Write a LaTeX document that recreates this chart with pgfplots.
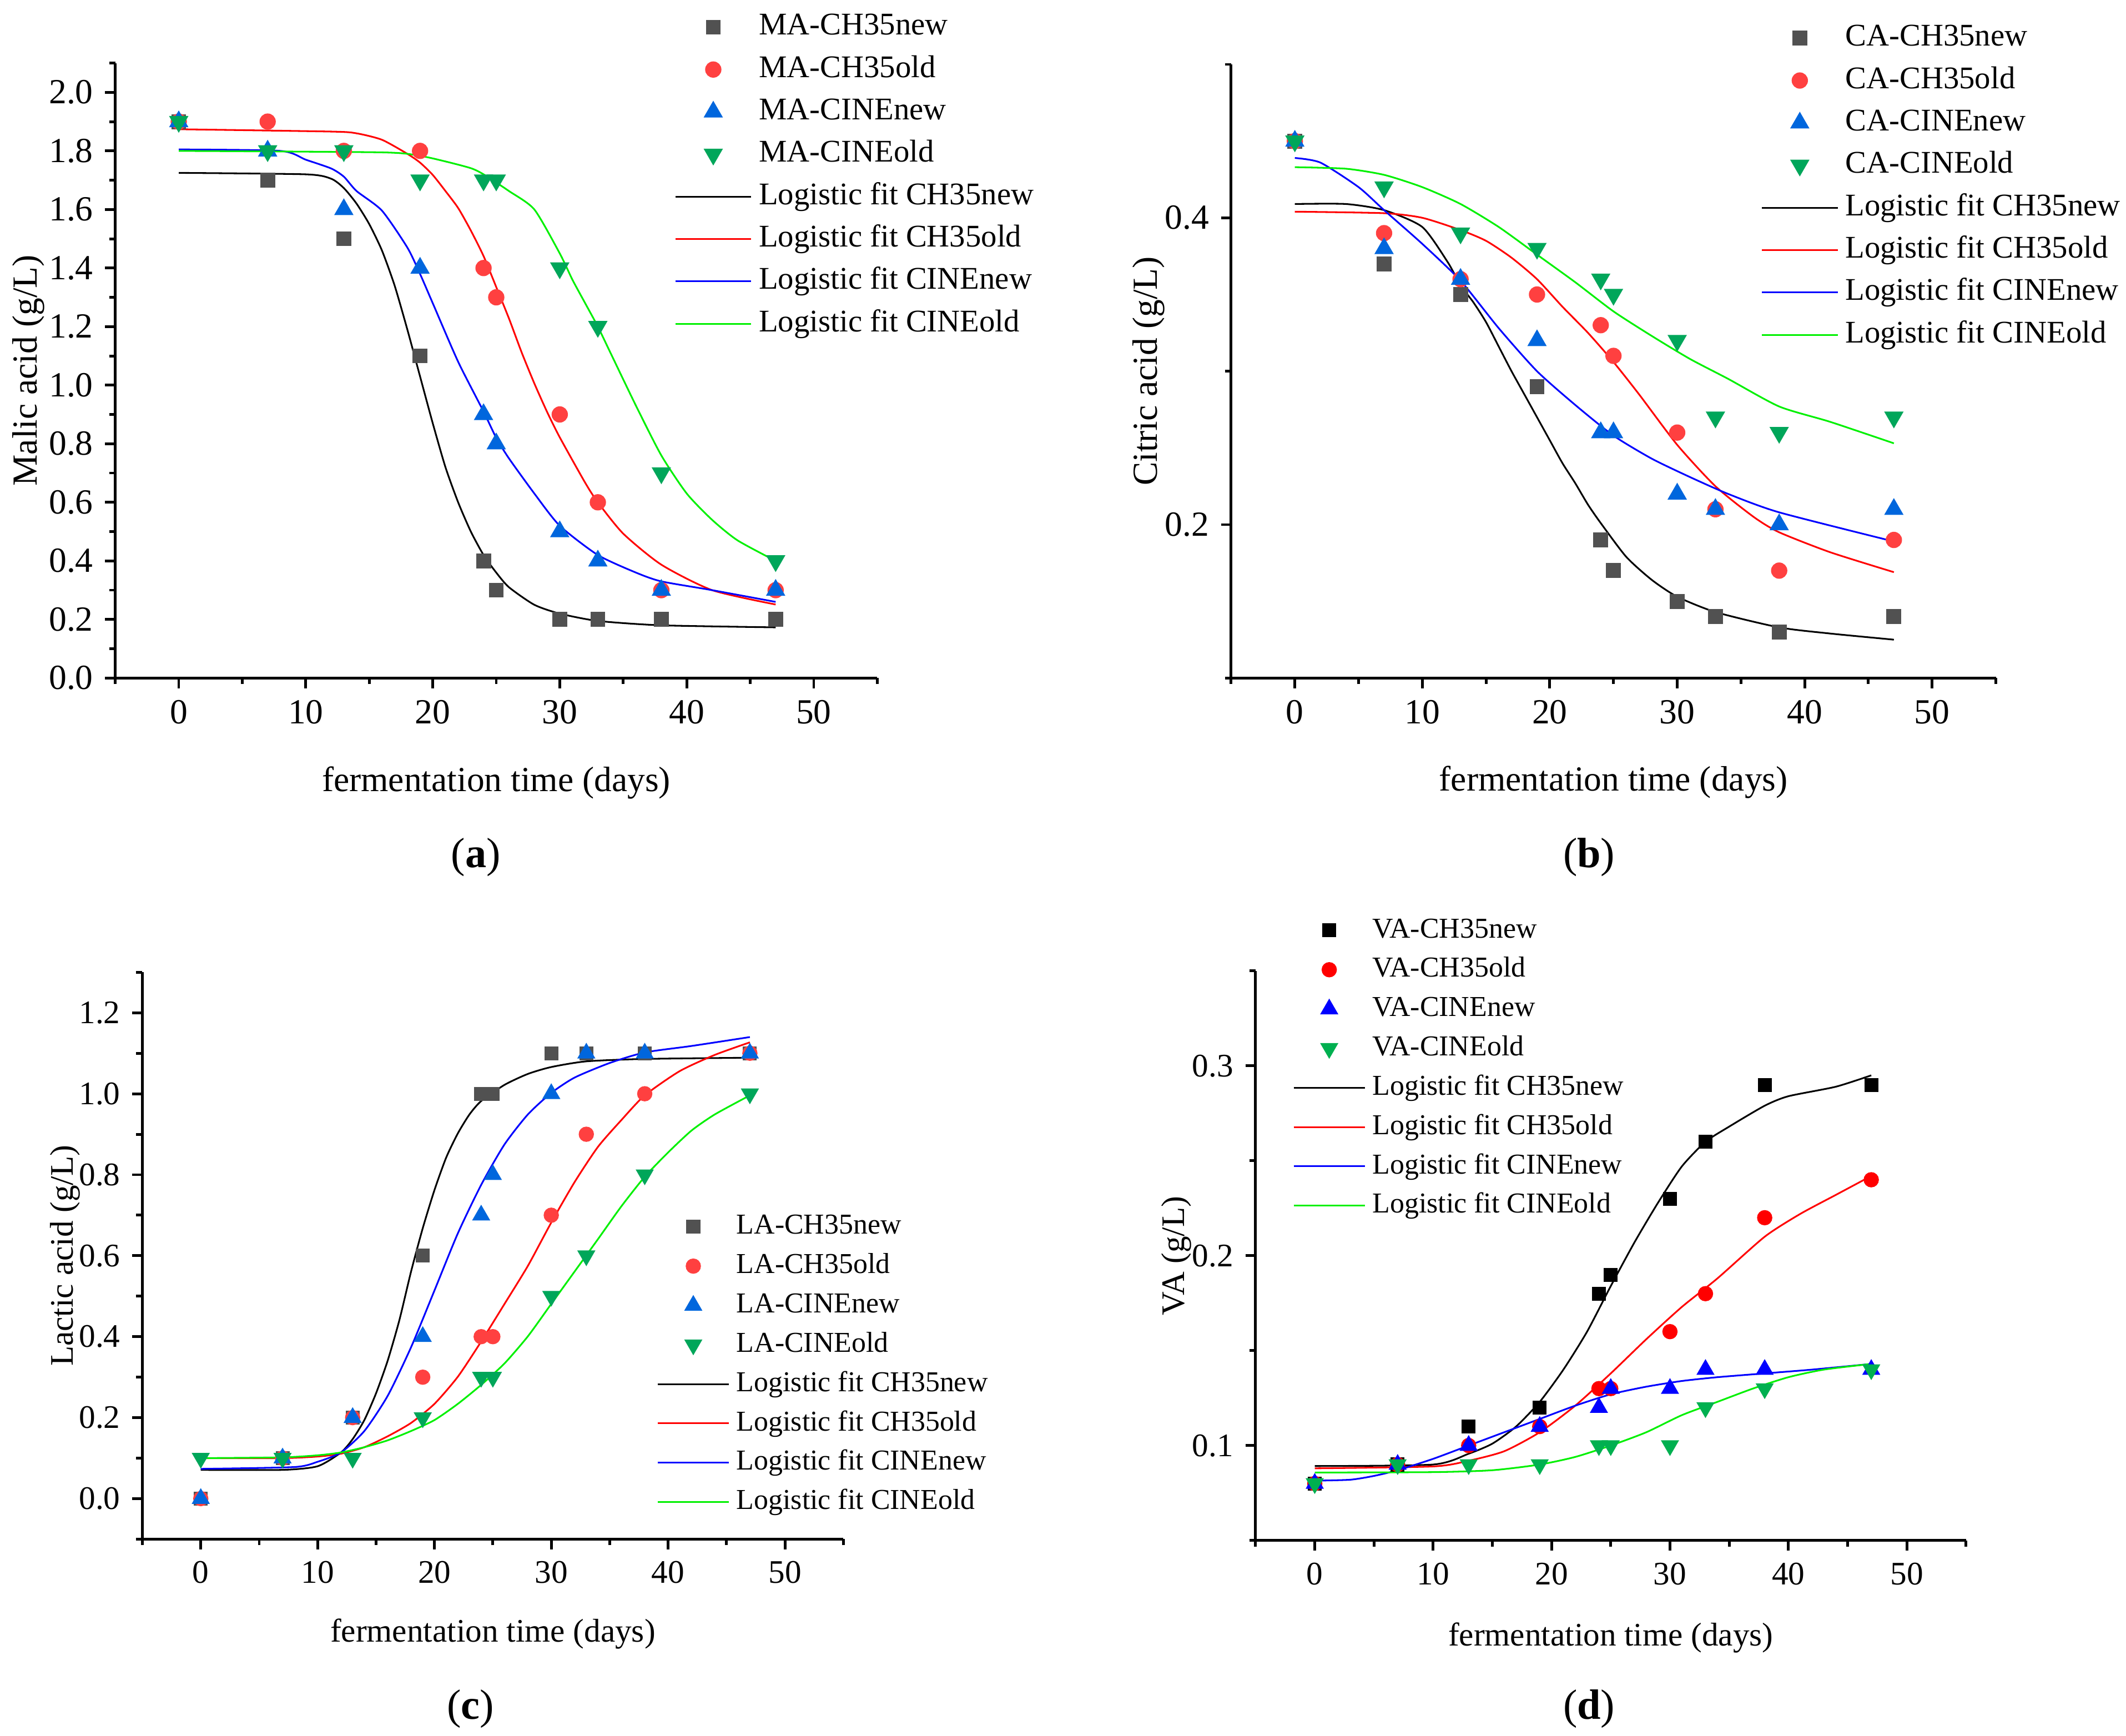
\documentclass[border=0pt]{standalone}
\usepackage{fontspec}
\setmainfont{Liberation Serif}
\usepackage{pgfplots}
\pgfplotsset{compat=1.18}
\definecolor{sqc}{HTML}{515151}
\definecolor{cic}{HTML}{FF4040}
\definecolor{tuc}{HTML}{0066DD}
\definecolor{tdc}{HTML}{00A65A}
\definecolor{fitr}{HTML}{FF0000}
\definecolor{fitb}{HTML}{0000FF}
\definecolor{fitg}{HTML}{00F000}
\definecolor{dgr}{HTML}{00B050}
\newcommand\fsA{\fontsize{10.4}{12}\selectfont}
\newcommand\fsAL{\fontsize{9.3}{11}\selectfont}
\newcommand\fsC{\fontsize{9.7}{11}\selectfont}
\newcommand\fsCL{\fontsize{8.5}{10}\selectfont}
\pgfplotsset{
 base/.style={
  scale only axis,
  axis x line*=bottom, axis y line*=left,
  xmin=-5, xmax=55,
  xtick={0,10,20,30,40,50}, minor xtick={-5,5,15,25,35,45,55},
  tick align=outside,
  major tick length=3pt, minor tick length=1.8pt,
  axis line style={line width=0.8pt},
  every tick/.style={line width=0.8pt, black},
  /pgf/number format/assume math mode=true,
  yticklabel style={/pgf/number format/.cd, fixed, fixed zerofill, precision=1},
  clip=false,
  legend cell align=left,
  xlabel={fermentation time (days)},
 },
 legA/.style={
  tick label style={font=\fsA}, label style={font=\fsA},
  legend image code/.code={\draw[##1] (0pt,0pt) -- (22.4pt,0pt);},
  legend style={draw=none, fill=none, inner sep=0pt, font=\fsAL, row sep=2.5pt, column sep=1.5pt,
     nodes={inner sep=0.5pt, text height=6.8pt, text depth=2.2pt}},
 },
 legC/.style={
  tick label style={font=\fsC}, label style={font=\fsC},
  legend image code/.code={\draw[##1] (0pt,0pt) -- (21pt,0pt);},
  legend style={draw=none, fill=none, inner sep=0pt, font=\fsCL, row sep=2.3pt, column sep=1.5pt,
     nodes={inner sep=0.5pt, text height=6.3pt, text depth=2pt}},
 },
 mA/.style={only marks, color=#1, legend image code/.code={\draw[##1] plot coordinates {(11.2pt,0pt)};}},
 mC/.style={only marks, color=#1, legend image code/.code={\draw[##1] plot coordinates {(10.5pt,0pt)};}},
 fit/.style={no markers, line width=0.5pt, color=#1, smooth, tension=0.4},
}
\begin{document}
\begin{tikzpicture}
\path[use as bounding box] (0pt,0pt) rectangle (627.2pt,512pt);
\fill[white] (0pt,0pt) rectangle (627.2pt,512pt);
% ---------------- (a)
\begin{axis}[base, legA, at={(34pt,312pt)}, anchor=south west, width=224.8pt, height=181.4pt,
  ymin=0, ymax=2.1,
  ytick={0,0.2,0.4,0.6,0.8,1.0,1.2,1.4,1.6,1.8,2.0},
  minor ytick={0.1,0.3,0.5,0.7,0.9,1.1,1.3,1.5,1.7,1.9,2.1},
  ylabel={Malic acid (g/L)},
  xlabel style={at={(axis description cs:0.5,-0.170)}, anchor=center},
  ylabel style={at={(axis description cs:-0.114,0.5)}, anchor=center},
  legend style={at={(0.733,1.087)}, anchor=north west}]
\addplot[mA=sqc, mark=square*, mark size=2pt] coordinates {(0,1.9)(7,1.7)(13,1.5)(19,1.1)(24,0.4)(25,0.3)(30,0.2)(33,0.2)(38,0.2)(47,0.2)};
\addplot[mA=cic, mark=*, mark size=2.2pt] coordinates {(0,1.9)(7,1.9)(13,1.8)(19,1.8)(24,1.4)(25,1.3)(30,0.9)(33,0.6)(38,0.3)(47,0.3)};
\addplot[mA=tuc, mark=triangle*, mark size=2.9pt] coordinates {(0,1.9)(7,1.8)(13,1.6)(19,1.4)(24,0.9)(25,0.8)(30,0.5)(33,0.4)(38,0.3)(47,0.3)};
\addplot[mA=tdc, mark=triangle*, mark size=2.9pt, mark options={rotate=180}] coordinates {(0,1.9)(7,1.8)(13,1.8)(19,1.7)(24,1.7)(25,1.7)(30,1.4)(33,1.2)(38,0.7)(47,0.4)};
\addplot[fit=black] coordinates {(0,1.725)(10,1.72)(12,1.705)(13,1.673)(14,1.62)(15,1.55)(16,1.46)(17,1.34)(18,1.19)(19,1.03)(20,0.87)(21,0.72)(22,0.60)(23,0.50)(24,0.42)(25,0.36)(26,0.31)(28,0.25)(30,0.22)(33,0.195)(38,0.18)(47,0.173)};
\addplot[fit=fitr] coordinates {(0,1.874)(12,1.866)(14,1.86)(16,1.838)(18,1.79)(19,1.76)(20,1.718)(21,1.663)(22,1.605)(23,1.528)(24,1.441)(25,1.335)(26,1.228)(27,1.112)(28,1.006)(29,0.909)(30,0.822)(32,0.667)(33,0.6)(35,0.493)(38,0.387)(42,0.3)(47,0.251)};
\addplot[fit=fitb] coordinates {(0,1.805)(8,1.8)(10,1.77)(12,1.74)(13,1.712)(14,1.663)(16,1.596)(18,1.47)(19,1.38)(20,1.28)(22,1.08)(24,0.91)(25,0.82)(26,0.75)(28,0.63)(30,0.52)(33,0.42)(36,0.36)(38,0.33)(42,0.30)(47,0.26)};
\addplot[fit=fitg] coordinates {(0,1.80)(16,1.795)(19,1.783)(21,1.764)(23,1.741)(24,1.72)(26,1.663)(28,1.60)(30,1.45)(31,1.36)(32,1.28)(33,1.2)(34,1.11)(36,0.93)(38,0.76)(40,0.63)(42,0.54)(44,0.47)(47,0.40)};
\legend{MA-CH35new,MA-CH35old,MA-CINEnew,MA-CINEold,Logistic fit CH35new,Logistic fit CH35old,Logistic fit CINEnew,Logistic fit CINEold}
\end{axis}
% ---------------- (b)
\begin{axis}[base, legA, at={(363.2pt,312pt)}, anchor=south west, width=225.6pt, height=181pt,
  ymin=0.1, ymax=0.5,
  ytick={0.2,0.4}, minor ytick={0.1,0.3,0.5},
  ylabel={Citric acid (g/L)},
  xlabel style={at={(axis description cs:0.5,-0.170)}, anchor=center},
  ylabel style={at={(axis description cs:-0.108,0.5)}, anchor=center},
  legend style={at={(0.692,1.0715)}, anchor=north west}]
\addplot[mA=sqc, mark=square*, mark size=2pt] coordinates {(0,0.45)(7,0.37)(13,0.35)(19,0.29)(24,0.19)(25,0.17)(30,0.15)(33,0.14)(38,0.13)(47,0.14)};
\addplot[mA=cic, mark=*, mark size=2.2pt] coordinates {(0,0.45)(7,0.39)(13,0.36)(19,0.35)(24,0.33)(25,0.31)(30,0.26)(33,0.21)(38,0.17)(47,0.19)};
\addplot[mA=tuc, mark=triangle*, mark size=2.9pt] coordinates {(0,0.45)(7,0.38)(13,0.36)(19,0.32)(24,0.26)(25,0.26)(30,0.22)(33,0.21)(38,0.20)(47,0.21)};
\addplot[mA=tdc, mark=triangle*, mark size=2.9pt, mark options={rotate=180}] coordinates {(0,0.45)(7,0.42)(13,0.39)(19,0.38)(24,0.36)(25,0.35)(30,0.32)(33,0.27)(38,0.26)(47,0.27)};
\addplot[fit=black] coordinates {(0,0.409)(4,0.409)(7,0.405)(10,0.394)(12,0.371)(13,0.356)(14,0.345)(15,0.332)(16,0.316)(17,0.30)(18,0.285)(19,0.27)(20,0.255)(21,0.24)(22,0.227)(23,0.213)(24,0.201)(26,0.179)(28,0.164)(30,0.153)(33,0.143)(38,0.133)(42,0.129)(47,0.125)};
\addplot[fit=fitr] coordinates {(0,0.404)(7,0.403)(10,0.40)(13,0.392)(15,0.385)(17,0.374)(19,0.36)(21,0.342)(23,0.325)(25,0.306)(27,0.285)(30,0.252)(33,0.225)(36,0.205)(38,0.195)(42,0.182)(47,0.169)};
\addplot[fit=fitb] coordinates {(0,0.439)(2,0.436)(5,0.42)(7,0.405)(10,0.383)(13,0.359)(16,0.328)(19,0.30)(22,0.278)(25,0.258)(28,0.243)(31,0.231)(34,0.22)(38,0.208)(47,0.189)};
\addplot[fit=fitg] coordinates {(0,0.433)(4,0.432)(7,0.428)(10,0.42)(13,0.409)(16,0.394)(19,0.376)(22,0.358)(25,0.339)(28,0.323)(31,0.308)(34,0.295)(38,0.277)(42,0.267)(47,0.253)};
\legend{CA-CH35new,CA-CH35old,CA-CINEnew,CA-CINEold,Logistic fit CH35new,Logistic fit CH35old,Logistic fit CINEnew,Logistic fit CINEold}
\end{axis}
% ---------------- (c)
\begin{axis}[base, legC, at={(42pt,58pt)}, anchor=south west, width=206.8pt, height=167.2pt,
  ymin=-0.1, ymax=1.3,
  ytick={0,0.2,0.4,0.6,0.8,1.0,1.2},
  minor ytick={-0.1,0.1,0.3,0.5,0.7,0.9,1.1,1.3},
  ylabel={Lactic acid (g/L)},
  xlabel style={at={(axis description cs:0.5,-0.167)}, anchor=center},
  ylabel style={at={(axis description cs:-0.110,0.5)}, anchor=center},
  legend style={at={(0.733,0.580)}, anchor=north west}]
\addplot[mC=sqc, mark=square*, mark size=1.85pt] coordinates {(0,0.0)(7,0.1)(13,0.2)(19,0.6)(24,1.0)(25,1.0)(30,1.1)(33,1.1)(38,1.1)(47,1.1)};
\addplot[mC=cic, mark=*, mark size=2.05pt] coordinates {(0,0.0)(7,0.1)(13,0.2)(19,0.3)(24,0.4)(25,0.4)(30,0.7)(33,0.9)(38,1.0)(47,1.1)};
\addplot[mC=tuc, mark=triangle*, mark size=2.7pt] coordinates {(0,0.0)(7,0.1)(13,0.2)(19,0.4)(24,0.7)(25,0.8)(30,1.0)(33,1.1)(38,1.1)(47,1.1)};
\addplot[mC=tdc, mark=triangle*, mark size=2.7pt, mark options={rotate=180}] coordinates {(0,0.1)(7,0.1)(13,0.1)(19,0.2)(24,0.3)(25,0.3)(30,0.5)(33,0.6)(38,0.8)(47,1.0)};
\addplot[fit=black] coordinates {(0,0.071)(7,0.071)(10,0.08)(12,0.114)(13,0.147)(14,0.194)(15,0.26)(16,0.341)(17,0.441)(18,0.561)(19,0.668)(20,0.762)(21,0.842)(22,0.902)(23,0.949)(24,0.982)(26,1.022)(28,1.049)(30,1.066)(33,1.08)(38,1.086)(47,1.089)};
\addplot[fit=fitr] coordinates {(0,0.1)(7,0.1)(10,0.104)(12,0.111)(14,0.127)(16,0.154)(18,0.187)(20,0.234)(22,0.301)(24,0.388)(26,0.481)(28,0.575)(30,0.682)(32,0.782)(34,0.869)(36,0.935)(38,0.996)(41,1.056)(44,1.096)(47,1.127)};
\addplot[fit=fitb] coordinates {(0,0.0735)(8,0.078)(10,0.091)(12,0.114)(14,0.167)(16,0.254)(18,0.374)(20,0.514)(22,0.655)(24,0.775)(26,0.875)(28,0.949)(30,1.002)(32,1.04)(35,1.076)(38,1.102)(42,1.118)(47,1.14)};
\addplot[fit=fitg] coordinates {(0,0.1)(7,0.102)(10,0.107)(12,0.114)(14,0.127)(16,0.144)(18,0.167)(20,0.194)(22,0.234)(24,0.281)(26,0.334)(28,0.401)(30,0.481)(32,0.561)(34,0.641)(36,0.722)(38,0.795)(40,0.855)(42,0.909)(44,0.949)(47,0.996)};
\legend{LA-CH35new,LA-CH35old,LA-CINEnew,LA-CINEold,Logistic fit CH35new,Logistic fit CH35old,Logistic fit CINEnew,Logistic fit CINEold}
\end{axis}
% ---------------- (d)
\begin{axis}[base, legC, at={(370.4pt,57.6pt)}, anchor=south west, width=209.6pt, height=168pt,
  ymin=0.05, ymax=0.35,
  ytick={0.1,0.2,0.3}, minor ytick={0.05,0.15,0.25,0.35},
  ylabel={VA (g/L)},
  xlabel style={at={(axis description cs:0.5,-0.171)}, anchor=center},
  ylabel style={at={(axis description cs:-0.111,0.5)}, anchor=center},
  legend style={at={(0.0515,1.100)}, anchor=north west}]
\addplot[mC=black, mark=square*, mark size=1.85pt] coordinates {(0,0.08)(7,0.09)(13,0.11)(19,0.12)(24,0.18)(25,0.19)(30,0.23)(33,0.26)(38,0.29)(47,0.29)};
\addplot[mC=fitr, mark=*, mark size=2.05pt] coordinates {(0,0.08)(7,0.09)(13,0.10)(19,0.11)(24,0.13)(25,0.13)(30,0.16)(33,0.18)(38,0.22)(47,0.24)};
\addplot[mC=fitb, mark=triangle*, mark size=2.7pt] coordinates {(0,0.08)(7,0.09)(13,0.10)(19,0.11)(24,0.12)(25,0.13)(30,0.13)(33,0.14)(38,0.14)(47,0.14)};
\addplot[mC=dgr, mark=triangle*, mark size=2.7pt, mark options={rotate=180}] coordinates {(0,0.08)(7,0.09)(13,0.09)(19,0.09)(24,0.10)(25,0.10)(30,0.10)(33,0.12)(38,0.13)(47,0.14)};
\addplot[fit=black] coordinates {(0,0.0892)(10,0.09)(13,0.0957)(15,0.101)(17,0.11)(19,0.123)(21,0.14)(23,0.16)(25,0.184)(27,0.207)(29,0.228)(31,0.247)(33,0.26)(35,0.268)(38,0.279)(40,0.284)(44,0.289)(47,0.295)};
\addplot[fit=fitr] coordinates {(0,0.088)(10,0.089)(13,0.092)(16,0.097)(19,0.107)(22,0.121)(25,0.138)(28,0.156)(31,0.173)(34,0.188)(38,0.21)(41,0.222)(44,0.232)(47,0.242)};
\addplot[fit=fitb] coordinates {(0,0.0815)(3,0.082)(5,0.084)(7,0.087)(10,0.093)(13,0.1)(16,0.107)(19,0.114)(22,0.121)(25,0.127)(28,0.131)(31,0.134)(34,0.136)(38,0.138)(42,0.14)(47,0.143)};
\addplot[fit=fitg] coordinates {(0,0.0858)(10,0.086)(15,0.087)(19,0.09)(22,0.094)(25,0.1)(28,0.107)(31,0.116)(34,0.123)(37,0.13)(40,0.136)(43,0.14)(47,0.143)};
\legend{VA-CH35new,VA-CH35old,VA-CINEnew,VA-CINEold,Logistic fit CH35new,Logistic fit CH35old,Logistic fit CINEnew,Logistic fit CINEold}
\end{axis}
% panel labels
\node[font=\fontsize{12.5}{14}\selectfont] at (140.4pt,259.2pt) {(\textbf{a})};
\node[font=\fontsize{12.5}{14}\selectfont] at (468.8pt,259.2pt) {(\textbf{b})};
\node[font=\fontsize{12.5}{14}\selectfont] at (138.8pt,8pt) {(\textbf{c})};
\node[font=\fontsize{12.5}{14}\selectfont] at (468.8pt,8pt) {(\textbf{d})};
\end{tikzpicture}
\end{document}
